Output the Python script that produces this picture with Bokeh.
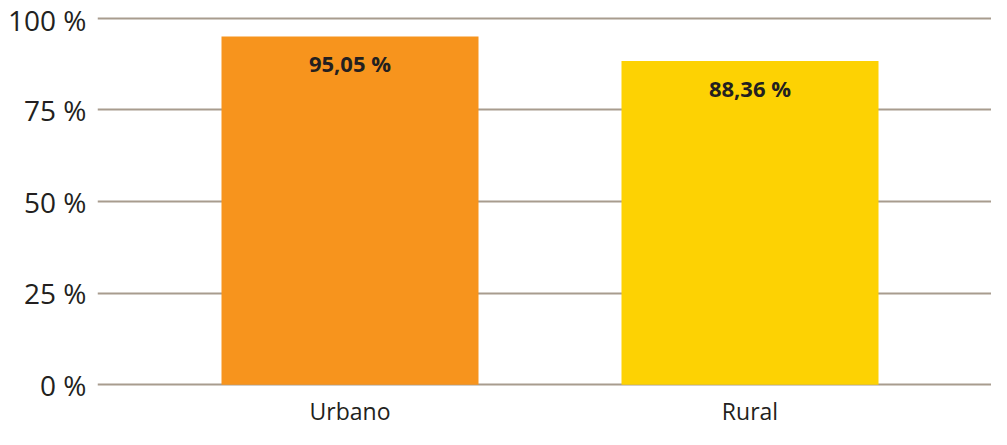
from bokeh.plotting import figure
from bokeh.models import FixedTicker, ColumnDataSource, Range1d
from bokeh.core.properties import value
from bokeh.embed import file_html
from bokeh.resources import INLINE

categories = ["Urbano", "Rural"]
values = [95.05, 88.36]
labels = ["95,05 %", "88,36 %"]
colors = ["#F7941D", "#FDD203"]
y_ticks = [0, 25, 50, 75, 100]
y_tick_labels = ["0 %", "25 %", "50 %", "75 %", "100 %"]

FONT = "Open Sans"
TXT = "#231F20"

xs = list(range(len(categories)))
src = ColumnDataSource(dict(x=xs, top=values, color=colors, label=labels, cat=categories))

p = figure(width=991, height=429, output_backend="svg", toolbar_location=None,
           x_range=Range1d(-0.63125, 1.60375), y_range=Range1d(-0.5, 100.5),
           min_border_left=97, min_border_right=0, min_border_top=16, min_border_bottom=36)
p.outline_line_color = None
p.background_fill_color = "white"
p.border_fill_color = "white"

p.vbar(x="x", top="top", bottom=0, width=0.6425, fill_color="color", line_color=None, source=src)
p.text(x="x", y="top", text="label", source=src, text_align="center", text_baseline="middle",
       y_offset=27, text_font=value(FONT), text_font_style="bold", text_font_size="22px",
       text_color=TXT)

p.xgrid.grid_line_color = None
p.ygrid.ticker = FixedTicker(ticks=y_ticks)
p.ygrid.grid_line_color = "#A89C8E"
p.ygrid.grid_line_width = 2

p.yaxis.ticker = FixedTicker(ticks=y_ticks)
p.yaxis.major_label_overrides = {t: l for t, l in zip(y_ticks, y_tick_labels)}
p.xaxis.ticker = FixedTicker(ticks=xs)
p.xaxis.major_label_overrides = {i: c for i, c in zip(xs, categories)}

for ax in (p.xaxis[0], p.yaxis[0]):
    ax.axis_line_color = None
    ax.major_tick_line_color = None
    ax.minor_tick_line_color = None
    ax.major_tick_in = 0
    ax.major_tick_out = 0
    ax.major_label_text_font = FONT
    ax.major_label_text_color = TXT
p.yaxis.major_label_text_font_size = "28px"
p.yaxis.major_label_standoff = 11
p.xaxis.major_label_text_font_size = "23px"
p.xaxis.major_label_standoff = 8

open("out.html", "w").write(file_html(p, INLINE))
